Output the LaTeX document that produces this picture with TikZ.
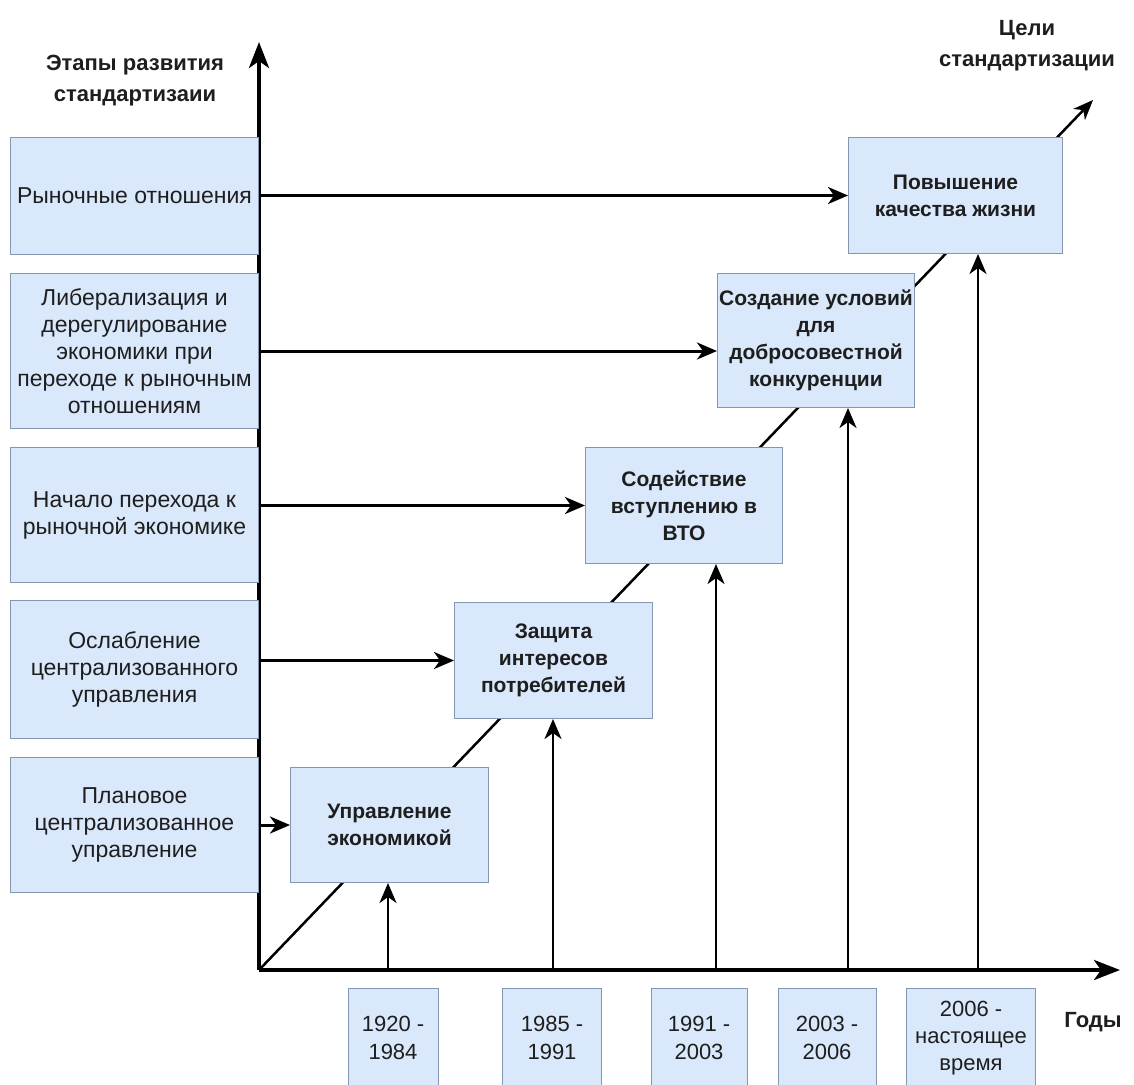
\documentclass[tikz,border=0pt]{standalone}
\usepackage{fontspec}
\setmainfont{Liberation Sans}
\usetikzlibrary{arrows.meta}
\definecolor{boxfill}{HTML}{DAE8FC}
\definecolor{boxline}{HTML}{8497B0}
\definecolor{txt}{HTML}{1E1E1E}
\begin{document}
\begin{tikzpicture}[x=1pt,y=-1pt,
  box/.style={draw=boxline, fill=boxfill, line width=1pt, text=txt, align=center, inner sep=0pt, anchor=north west},
  stage/.style={box, font=\fontsize{23}{27}\selectfont},
  goal/.style={box, font=\bfseries\fontsize{21}{27}\selectfont},
  datebox/.style={box, anchor=center, font=\fontsize{22}{28}\selectfont},
  heading/.style={align=center, text=txt, inner sep=0pt, font=\bfseries\fontsize{22}{31}\selectfont},
  axisline/.style={line width=4pt, -{Stealth[length=26pt,width=20pt,inset=7pt]}},
  harrow/.style={line width=3pt, -{Stealth[length=20pt,width=17pt,inset=6pt]}},
  varrow/.style={line width=2.5pt, -{Stealth[length=20pt,width=17pt,inset=6pt]}},
  diag/.style={line width=2.5pt, -{Stealth[length=20pt,width=16pt,inset=6pt]}}
]
\useasboundingbox (0,0) rectangle (1134,1084);
\fill[white] (0,0) rectangle (1134,1084);
\clip (0,0) rectangle (1134,1084);

% coordinates
\coordinate (O) at (259,970);
\coordinate (Ytip) at (259,42);
\coordinate (Xtip) at (1120,970);
\coordinate (Dtip) at (1093,100);
\coordinate (t1) at (388,970);
\coordinate (t2) at (553,970);
\coordinate (t3) at (716,970);
\coordinate (t4) at (848,970);
\coordinate (t5) at (978,970);

% axes and diagonal
\draw[axisline] (O) -- (Ytip);
\draw[axisline] (O) -- (Xtip);
\draw[diag] (O) -- (Dtip);

% headings
\node[heading] (hY) at (135,81) {Этапы развития\\стандартизаии};
\node[heading] (hX) at (1027,46) {Цели\\стандартизации};
\node[heading] (hT) at (1093,1022) {Годы};

% stage boxes (left)
\node[stage, minimum width=248pt, minimum height=117pt] (L1) at (10,137) {Рыночные отношения};
\node[stage, minimum width=248pt, minimum height=155pt] (L2) at (10,273) {Либерализация и\\дерегулирование\\экономики при\\переходе к рыночным\\отношениям};
\node[stage, minimum width=248pt, minimum height=135pt] (L3) at (10,447) {Начало перехода к\\рыночной экономике};
\node[stage, minimum width=248pt, minimum height=138pt] (L4) at (10,600) {Ослабление\\централизованного\\управления};
\node[stage, minimum width=248pt, minimum height=135pt] (L5) at (10,757) {Плановое\\централизованное\\управление};

% goal boxes
\node[goal, minimum width=198pt, minimum height=115pt] (G1) at (290,767) {Управление\\экономикой};
\node[goal, minimum width=198pt, minimum height=116pt] (G2) at (454,602) {Защита\\интересов\\потребителей};
\node[goal, minimum width=197pt, minimum height=116pt] (G3) at (585,447) {Содействие\\вступлению в\\ВТО};
\node[goal, minimum width=197pt, minimum height=134pt] (G4) at (717,273) {Создание условий\\для\\добросовестной\\конкуренции};
\node[goal, minimum width=214pt, minimum height=116pt] (G5) at (848,137) {Повышение\\качества жизни};

% date boxes
\node[datebox, minimum width=90pt, minimum height=100pt] (D1) at (393,1038) {1920 -\\1984};
\node[datebox, minimum width=99pt, minimum height=100pt] (D2) at (552,1038) {1985 -\\1991};
\node[datebox, minimum width=96pt, minimum height=100pt] (D3) at (699,1038) {1991 -\\2003};
\node[datebox, minimum width=98pt, minimum height=100pt] (D4) at (827,1038) {2003 -\\2006};
\node[datebox, minimum width=129pt, minimum height=100pt, font=\fontsize{22}{27}\selectfont] (D5) at (971,1038) {2006 -\\настоящее\\время};

% horizontal arrows
\draw[harrow] (G5.west -| L1.east) -- (G5.west);
\draw[harrow] (L2.east) -- (L2.east -| G4.west);
\draw[harrow] (G3.west -| L3.east) -- (G3.west);
\draw[harrow] (G2.west -| L4.east) -- (G2.west);
\draw[harrow] (G1.west -| L5.east) -- (G1.west);

% vertical arrows
\draw[varrow] (t1) -- (t1 |- G1.south);
\draw[varrow] (t2) -- (t2 |- G2.south);
\draw[varrow] (t3) -- (t3 |- G3.south);
\draw[varrow] (t4) -- (t4 |- G4.south);
\draw[varrow] (t5) -- (t5 |- G5.south);
\end{tikzpicture}
\end{document}
